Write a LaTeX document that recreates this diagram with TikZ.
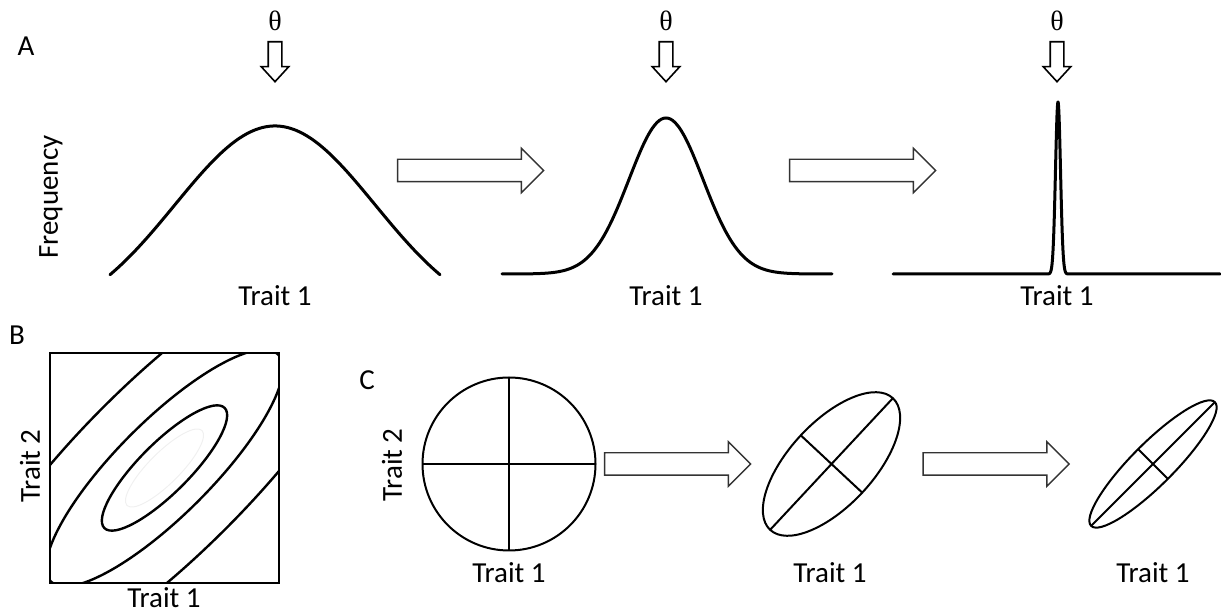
\documentclass[tikz,border=0pt]{standalone}
\usepackage{fontspec}
\setmainfont{Carlito}
\newfontfamily\thetafont{Liberation Serif}
\usetikzlibrary{shapes.arrows,positioning}

\begin{document}
\begin{tikzpicture}[x=0.5pt,y=-0.5pt, font=\fontsize{14.5}{17}\selectfont,
  curve/.style={line width=1.5pt,line join=round,line cap=round},
  fatarrow/.style={draw=black!80,line width=0.7pt,single arrow,inner xsep=0pt,inner ysep=5.25pt,minimum width=21.5pt,minimum height=73pt,single arrow head extend=5.5pt,single arrow tip angle=90},
  downarrow/.style={draw,line width=0.8pt,single arrow,inner xsep=0pt,inner ysep=3pt,minimum width=13pt,minimum height=20pt,single arrow head extend=3.5pt,single arrow tip angle=85,rotate=-90},
  thlabel/.style={font=\thetafont\fontsize{14}{16}\selectfont},
  contour/.style={line width=1.2pt},
  gline/.style={line width=1pt}]
\useasboundingbox (0,0) rectangle (1221,613);
% panel A
\node (labA) at (26,46) {A};
\node[rotate=90] (freq) at (51,197) {Frequency};
\foreach \n/\cx in {1/275,2/666,3/1057}{
  \node[downarrow] (d\n) at (\cx,58) {};
  \node[thlabel] (th\n) at (\cx,21) {θ};
  \node (tr\n) at (\cx,296) {Trait 1};
}
\draw[curve] plot[domain=110:440,samples=90,smooth] (\x,{326-200*exp(-((((\x-275)/100)^2)/2))});
\draw[curve] plot[domain=502:832,samples=150] (\x,{274-156*exp(-((((\x-666)/37)^2)/2))});
\draw[curve] (893,274) -- plot[domain=1046:1070,samples=121] (\x,{274-172*exp(-((((\x-1058)/2.5)^2)/2))}) -- (1220,274);
\node[fatarrow] (a1) at (465,170.5) {};
\node[fatarrow] (a2) at (857,170.5) {};
% panel B
\node (labB) at (17,335) {B};
\node (btr1) at (164,598) {Trait 1};
\node[rotate=90] (btr2) at (30,466) {Trait 2};
\begin{scope}
\clip (50,353) rectangle (279,583);
\draw[line width=0.5pt,black!6,rotate around={45:(164.5,468)}] (164.5,468) ellipse[x radius=53,y radius=15.5];
\foreach \k in {1,1.89,3.45}
  \draw[contour,rotate around={45:(164.5,468)}] (164.5,468) ellipse[x radius=85*\k,y radius=25*\k];
\end{scope}
\draw[contour] (50,353) rectangle (279,583);
% panel C
\node (labC) at (367,380) {C};
\node[rotate=90] (ctr2) at (392,465) {Trait 2};
\node (ctr1) at (509,573) {Trait 1};
\node (ctr2b) at (830,573) {Trait 1};
\node (ctr3) at (1153,573) {Trait 1};
\draw[gline] (509,464) circle[radius=86.5];
\draw[gline] (422.5,464) -- (595.5,464) (509,377.5) -- (509,550.5);
\begin{scope}[shift={(831.5,464)},rotate=47]
\draw[gline] (0,0) ellipse[x radius=90,y radius=42];
\draw[gline] (-90,0) -- (90,0) (0,-42) -- (0,42);
\end{scope}
\begin{scope}[shift={(1153,464)},rotate=45]
\draw[gline] (0,0) ellipse[x radius=87.5,y radius=21];
\draw[gline] (-87.5,0) -- (87.5,0) (0,-21) -- (0,21);
\end{scope}
\node[fatarrow] (c1) at (672,464) {};
\node[fatarrow] (c2) at (990.5,464) {};
\end{tikzpicture}
\end{document}
